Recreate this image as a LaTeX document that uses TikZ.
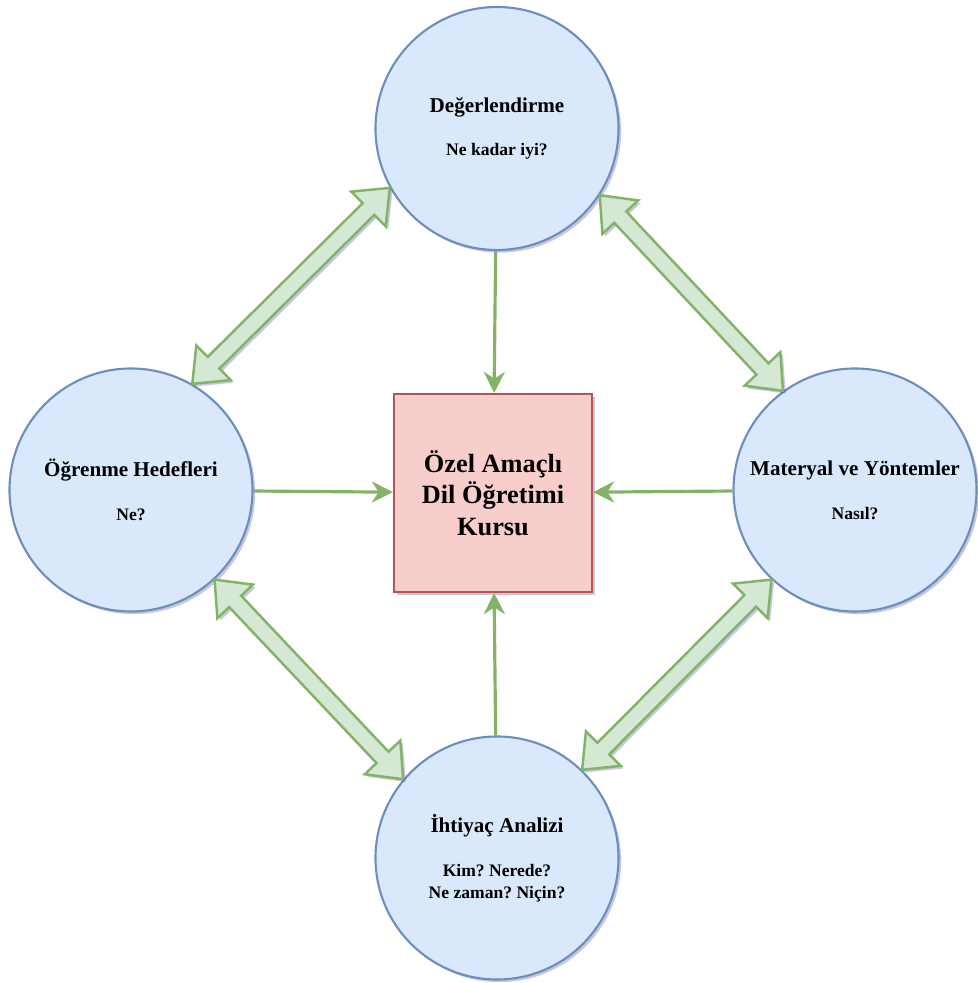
\documentclass[tikz,border=0pt]{standalone}
\usepackage{fontspec}
\setmainfont{Liberation Serif}
\usepackage{xcolor}
\usepackage{tikz}
\usetikzlibrary{positioning, arrows.meta, calc, shadows}
\frenchspacing

\definecolor{circfill}{HTML}{DAE8FC}
\definecolor{circline}{HTML}{6C8EBF}
\definecolor{boxfill}{HTML}{F8CECC}
\definecolor{boxline}{HTML}{B85450}
\definecolor{arrfill}{HTML}{D5E8D4}
\definecolor{arrline}{HTML}{82B366}

% block arrow with a head at both ends
\newcommand{\dblarrow}[2]{%
    \coordinate (da1) at (#1);
    \coordinate (da2) at (#2);
    \draw[dblarr] (da1)
        -- ($(da1)!0.6cm!(da2)!0.49cm!90:(da2)$)
        -- ($(da1)!0.6cm!(da2)!0.165cm!90:(da2)$)
        -- ($(da2)!0.6cm!(da1)!0.165cm!-90:(da1)$)
        -- ($(da2)!0.6cm!(da1)!0.49cm!-90:(da1)$)
        -- (da2)
        -- ($(da2)!0.6cm!(da1)!0.49cm!90:(da1)$)
        -- ($(da2)!0.6cm!(da1)!0.165cm!90:(da1)$)
        -- ($(da1)!0.6cm!(da2)!0.165cm!-90:(da2)$)
        -- ($(da1)!0.6cm!(da2)!0.49cm!-90:(da2)$)
        -- cycle;}

\begin{document}
\begin{tikzpicture}[
        softshadow/.style={drop shadow={shadow xshift=1.5pt, shadow yshift=-1.5pt,
                           opacity=0.22, fill=black!55!blue}},
        phase/.style={circle, draw=circline, fill=circfill, line width=1.2pt,
                      minimum size=4.86cm, inner sep=0pt, align=center,
                      font=\bfseries\fontsize{10}{12.5}\selectfont, softshadow},
        course/.style={rectangle, draw=boxline, fill=boxfill, line width=1.2pt,
                       minimum size=3.96cm, align=center,
                       font=\bfseries\fontsize{15}{18}\selectfont, softshadow},
        arr/.style={-{Stealth[length=12pt, width=12pt]}, draw=arrline, line width=1.8pt},
        dblarr/.style={draw=arrline, fill=arrfill, line width=1.4pt,
                       line join=miter, softshadow}
    ]
    \useasboundingbox (0, 0) rectangle (19.54, 19.66);
    \newcommand{\ttl}[1]{{\fontsize{12}{14}\selectfont #1}}
    % phases
    \node[phase] (eval) at (9.94, 17.09) {\ttl{Değerlendirme}\\[12.5pt]Ne kadar iyi?};
    \node[phase] (goals) at (2.62, 9.86) {\ttl{Öğrenme Hedefleri}\\[12.5pt]Ne?};
    \node[phase] (meth) at (17.10, 9.86) {\ttl{Materyal ve Yöntemler}\\[12.5pt]Nasıl?};
    \node[phase] (needs) at (9.94, 2.50)
        {\ttl{İhtiyaç Analizi}\\[12.5pt]Kim? Nerede?\\Ne zaman? Niçin?};
    % course in the middle
    \node[course] (course) at (9.86, 9.80) {Özel Amaçlı\\Dil Öğretimi\\Kursu};
    % phases feed the course
    \foreach \p in {eval, goals, meth, needs}
        \draw[arr] (\p) -- (course);
    % two-way links between phases
    \dblarrow{eval.209}{goals.60}
    \dblarrow{eval.327}{meth.126}
    \dblarrow{goals.313}{needs.140}
    \dblarrow{meth.227}{needs.46}
\end{tikzpicture}
\end{document}
